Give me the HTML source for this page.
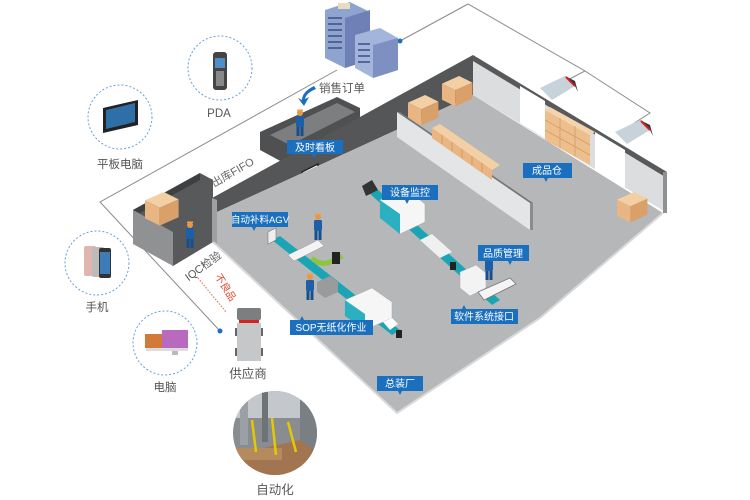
<!DOCTYPE html>
<html><head><meta charset="utf-8"><style>
html,body{margin:0;padding:0;background:#fff;}
body{width:750px;height:500px;overflow:hidden;position:relative;font-family:"Liberation Sans","Noto Sans CJK SC",sans-serif;}
svg{position:absolute;left:0;top:0;}
</style></head><body>
<svg width="750" height="500" viewBox="0 0 750 500" xmlns="http://www.w3.org/2000/svg" font-family="Liberation Sans, Noto Sans CJK SC, sans-serif">
<defs>
<g id="person"><circle cx="0" cy="-15" r="3" fill="#e8964a"/><path d="M-3,-17 h6 v-1.5 h-6z" fill="#f0a040"/><rect x="-4" y="-12" width="8" height="11" rx="1.5" fill="#1a5fa8"/><rect x="-3.5" y="-1" width="3" height="9" fill="#174f8c"/><rect x="0.5" y="-1" width="3" height="9" fill="#174f8c"/></g>
<g id="box"><path d="M0,8 L18,0 L32,7 L14,15Z" fill="#f3cfa4"/><path d="M0,8 L14,15 L14,32 L0,25Z" fill="#e8b583"/><path d="M14,15 L32,7 L32,24 L14,32Z" fill="#d9a06a"/></g>
</defs>

<polyline points="337,70 100,202 220,331" fill="none" stroke="#8a8a8a" stroke-width="1"/>
<circle cx="220" cy="331" r="2.5" fill="#1a6fc0"/>
<polyline points="400,41 468,4 585,71 556,86" fill="none" stroke="#8a8a8a" stroke-width="1"/>
<polyline points="585,71 650,113 628,127" fill="none" stroke="#8a8a8a" stroke-width="1"/>
<circle cx="400" cy="41" r="2.5" fill="#1a6fc0"/>

<!-- IQC area -->
<polygon points="133,210 200,173 213,180 213,242 173,266" fill="#58595b"/>
<polygon points="133,210 173,232 173,266 133,244" fill="#909193"/>
<polygon points="133,210 200,173 200,180 140,213" fill="#3e3f41"/>
<g transform="translate(145,192) scale(1.05)"><use href="#box"/></g>
<use href="#person" transform="translate(190,240)"/>

<!-- upper block -->
<polygon points="260,132 337,97 360,108 360,140 297,170 260,150" fill="#4f5052"/>
<polygon points="270,135 337,103 355,112 290,145" fill="#7d7e80"/>
<use href="#person" transform="translate(300,128)"/>

<!-- main dark back wall -->
<polygon points="212,198 473,55 473,95 217,212" fill="#555658"/>
<polygon points="212,198 217,200 217,244 212,242" fill="#9fa0a2"/>
<polygon points="240,210 268,195 268,225 240,237" fill="#fff"/>
<polygon points="302,172 318,164 318,178 302,186" fill="#fff" stroke="#222" stroke-width="1.5"/>
<polygon points="473,55 663,170 667,172 667,213 473,95" fill="#dcdddf"/>
<polygon points="473,55 667,172 667,178 473,61" fill="#58595b"/>
<polygon points="663,172 667,172 667,213 663,213" fill="#8f9092"/>
<polygon points="520,86 545,101 545,138 520,123" fill="#fff"/>
<polygon points="595,132 625,150 625,188 595,170" fill="#fff"/>

<!-- floor -->
<polygon points="217,212 473,95 663,213 540,318 397,413 213,242 217,244" fill="#b6b7b9"/>
<polyline points="663,213 540,318 397,413 213,242" fill="none" stroke="#d8d9db" stroke-width="2"/>

<g transform="translate(442,76) scale(0.95)"><use href="#box"/></g>
<g transform="translate(408,95) scale(0.95)"><use href="#box"/></g>
<polygon points="397,112 530,203 530,230 397,137" fill="#e4e5e7"/>
<polygon points="397,112 400,112 533,203 530,203" fill="#777"/>
<polygon points="530,203 533,203 533,230 530,230" fill="#8a8b8d"/>
<polygon points="432,128 440,124 500,165 492,170" fill="#f3cfa4"/>
<polygon points="432,128 492,170 492,180 432,138" fill="#e8b583"/>
<path d="M442,135 v9 M452,142 v9 M462,149 v9 M472,156 v9 M482,163 v9" stroke="#d09a66"/>
<polygon points="545,110 590,135 590,165 545,140" fill="#edbf8c"/>
<polygon points="545,110 550,107 595,132 590,135" fill="#f4d4ad"/>
<path d="M545,120 L590,145 M545,130 L590,155 M560,118 L560,148 M575,126 L575,156" stroke="#d49c66" stroke-width="0.8"/>
<g transform="translate(617,192) scale(0.95)"><use href="#box"/></g>

<!-- cameras -->
<polygon points="540,88 565,76 575,86 552,100" fill="#c8d2da"/>
<polygon points="565,76 575,81 578,92 575,86" fill="#333"/>
<line x1="566" y1="77" x2="575" y2="86" stroke="#d02020" stroke-width="2"/>
<polygon points="615,132 640,120 650,130 627,144" fill="#c8d2da"/>
<polygon points="640,120 650,125 653,136 650,130" fill="#333"/>
<line x1="641" y1="121" x2="650" y2="130" stroke="#d02020" stroke-width="2"/>

<!-- building -->
<g>
<polygon points="325,10 350,2 370,12 370,60 345,68 325,58" fill="#8fa3cf"/>
<polygon points="345,18 370,10 370,60 345,68" fill="#6e80b5"/>
<polygon points="355,35 380,28 398,38 398,70 373,78 355,68" fill="#a4b5dc"/>
<polygon points="373,45 398,38 398,70 373,78" fill="#7e90c2"/>
<path d="M328,18 h14 M328,24 h14 M328,30 h14 M328,36 h14 M328,42 h14 M328,48 h14 M358,44 h12 M358,50 h12 M358,56 h12 M358,62 h12" stroke="#3d4e85" stroke-width="1.5"/>
<rect x="338" y="3" width="12" height="6" fill="#e8dcc0"/>
</g>
<path d="M314,86 Q302,92 302,100 L298,98 L304,106 L309,97 L305,99 Q306,93 316,89Z" fill="#1a6fc0"/>

<!-- production line 1 -->
<g>
<polygon points="272,240 280,236 400,330 392,335" fill="#1aa5b5"/>
<polygon points="268,232 276,228 276,240 268,244" fill="#eee" stroke="#666" stroke-width="0.5"/>
<polygon points="288,255 318,240 324,246 294,261" fill="#f3f3f3" stroke="#999" stroke-width="0.5"/>
<path d="M312,258 q8,8 18,4 q6,-2 12,-6" stroke="#8cc63f" stroke-width="5" fill="none"/>
<rect x="332" y="252" width="8" height="12" fill="#222"/>
<polygon points="317,282 330,276 338,282 338,292 325,298 317,292" fill="#9a9b9d"/>
<polygon points="345,300 372,288 392,302 392,318 365,330 345,316" fill="#f6f6f6" stroke="#aaa" stroke-width="0.5"/>
<polygon points="345,300 365,314 365,330 345,316" fill="#2ab0c0"/>
<polygon points="383,322 392,318 398,324 390,330" fill="#fff"/>
<rect x="396" y="330" width="6" height="8" fill="#222"/>
</g>
<!-- production line 2 -->
<g>
<polygon points="368,192 376,188 500,300 492,305" fill="#1aa5b5"/>
<polygon points="362,186 372,180 378,190 366,196" fill="#333"/>
<polygon points="380,200 405,188 425,204 425,222 400,234 380,218" fill="#f6f6f6" stroke="#aaa" stroke-width="0.5"/>
<polygon points="380,200 400,214 400,234 380,218" fill="#2ab0c0"/>
<polygon points="420,240 432,234 452,252 440,258" fill="#f0f0f0"/>
<rect x="450" y="262" width="6" height="8" fill="#222"/>
<polygon points="460,272 476,265 486,273 486,288 470,296 460,288" fill="#f3f3f3" stroke="#aaa" stroke-width="0.5"/>
<polygon points="478,292 510,278 516,284 484,300" fill="#f5f5f5" stroke="#777" stroke-width="0.8"/>
</g>

<use href="#person" transform="translate(318,232)"/>
<use href="#person" transform="translate(310,292)"/>
<use href="#person" transform="translate(489,272)"/>

<line x1="198" y1="278" x2="226" y2="312" stroke="#e27a6a" stroke-width="1.2" stroke-dasharray="1.5 1.5"/>

<!-- truck -->
<rect x="237" y="308" width="24" height="12" rx="2" fill="#7d7e80"/>
<rect x="239" y="320" width="20" height="3" fill="#d92020"/>
<rect x="237" y="323" width="24" height="38" fill="#c6c7c9"/>
<rect x="235" y="328" width="2" height="8" fill="#666"/><rect x="261" y="328" width="2" height="8" fill="#666"/>
<rect x="235" y="348" width="2" height="8" fill="#666"/><rect x="261" y="348" width="2" height="8" fill="#666"/>

<g fill="none" stroke="#6a9fd4" stroke-width="1" stroke-dasharray="2 2">
<circle cx="220" cy="68" r="32"/>
<circle cx="120" cy="117" r="32"/>
<circle cx="97" cy="263" r="32"/>
<circle cx="165" cy="343" r="32"/>
</g>
<rect x="213" y="52" width="14" height="38" rx="3" fill="#444"/>
<rect x="215" y="58" width="10" height="10" fill="#4f8ec9"/>
<rect x="216" y="71" width="8" height="15" fill="#888"/>
<polygon points="103,108 138,100 138,125 103,133" fill="#222"/>
<polygon points="106,110 135,103 135,122 106,129" fill="#2f6fa8"/>
<rect x="84" y="246" width="12" height="30" rx="2" fill="#e0b5b0"/>
<rect x="92" y="247" width="12" height="30" rx="2" fill="#bbb"/>
<rect x="99" y="248" width="12" height="30" rx="2" fill="#333"/>
<rect x="100" y="252" width="10" height="22" fill="#3e7cb8"/>
<rect x="145" y="334" width="20" height="14" fill="#d27a3a"/>
<rect x="162" y="330" width="26" height="18" fill="#b86ac0"/>
<rect x="146" y="348" width="18" height="3" fill="#ddd"/><rect x="162" y="348" width="26" height="3" fill="#ddd"/>
<rect x="172" y="351" width="6" height="4" fill="#bbb"/>
<clipPath id="cp"><circle cx="275" cy="433" r="42"/></clipPath>
<g clip-path="url(#cp)">
<rect x="230" y="390" width="90" height="90" fill="#8a8d90"/>
<rect x="230" y="390" width="90" height="28" fill="#c4c8cc"/>
<rect x="240" y="395" width="8" height="50" fill="#9aa0a6"/>
<rect x="262" y="392" width="6" height="50" fill="#6e7378"/>
<rect x="300" y="395" width="20" height="60" fill="#7a7f84"/>
<polygon points="232,455 300,440 320,455 320,480 232,480" fill="#a27450"/>
<rect x="232" y="448" width="50" height="12" fill="#b58a5e"/>
<path d="M252,420 L256,452 M272,418 L276,455 M288,422 L296,452" stroke="#e6c800" stroke-width="2.5"/>
</g>

<g fill="#555" font-size="11.5" text-anchor="middle">
<text x="219" y="117">PDA</text>
<text x="120" y="168">平板电脑</text>
<text x="97" y="311">手机</text>
<text x="165" y="391">电脑</text>
<text x="248" y="378" font-size="12.5">供应商</text>
<text x="275" y="494" font-size="12.5">自动化</text>
<text x="342" y="92">销售订单</text>
</g>
<text x="233" y="176" fill="#666" font-size="11" text-anchor="middle" transform="rotate(-30 233 173)">出库FIFO</text>
<text x="203" y="270" fill="#555" font-size="11" text-anchor="middle" transform="rotate(-36 203 266)">IQC检验</text>
<text x="226" y="291" fill="#e0452e" font-size="10" text-anchor="middle" transform="rotate(58 226 287)">不良品</text>

<g font-size="10" fill="#fff">
<rect x="287" y="140" width="56" height="14" fill="#1b6fbf"/><text x="315" y="151" text-anchor="middle">及时看板</text>
<rect x="382" y="185" width="56" height="15" fill="#1b6fbf"/><text x="410" y="196" text-anchor="middle">设备监控</text>
<rect x="232" y="212" width="56" height="15" fill="#1b6fbf"/><text x="260" y="223" text-anchor="middle" font-size="9.5">自动补料AGV</text>
<rect x="478" y="245" width="51" height="16" fill="#1b6fbf"/><text x="503" y="257" text-anchor="middle">品质管理</text>
<rect x="451" y="309" width="67" height="15" fill="#1b6fbf"/><text x="484" y="320" text-anchor="middle">软件系统接口</text>
<rect x="290" y="320" width="83" height="15" fill="#1b6fbf"/><text x="331" y="331" text-anchor="middle">SOP无纸化作业</text>
<rect x="377" y="376" width="46" height="15" fill="#1b6fbf"/><text x="400" y="387" text-anchor="middle">总装厂</text>
<rect x="523" y="163" width="49" height="15" fill="#1b6fbf"/><text x="547" y="174" text-anchor="middle">成品仓</text>
</g>
<g fill="#1b6fbf">
<path d="M312,154 l4,0 l-2,4z"/><path d="M405,200 l4,0 l-2,4z"/><path d="M252,227 l4,0 l-2,4z"/>
<path d="M508,261 l4,0 l-2,4z"/><path d="M462,309 l4,0 l-2,-4z"/><path d="M300,320 l4,0 l-2,-4z"/>
<path d="M398,391 l4,0 l-2,4z"/><path d="M544,178 l4,0 l-2,4z"/>
</g>
</svg>
</body></html>
